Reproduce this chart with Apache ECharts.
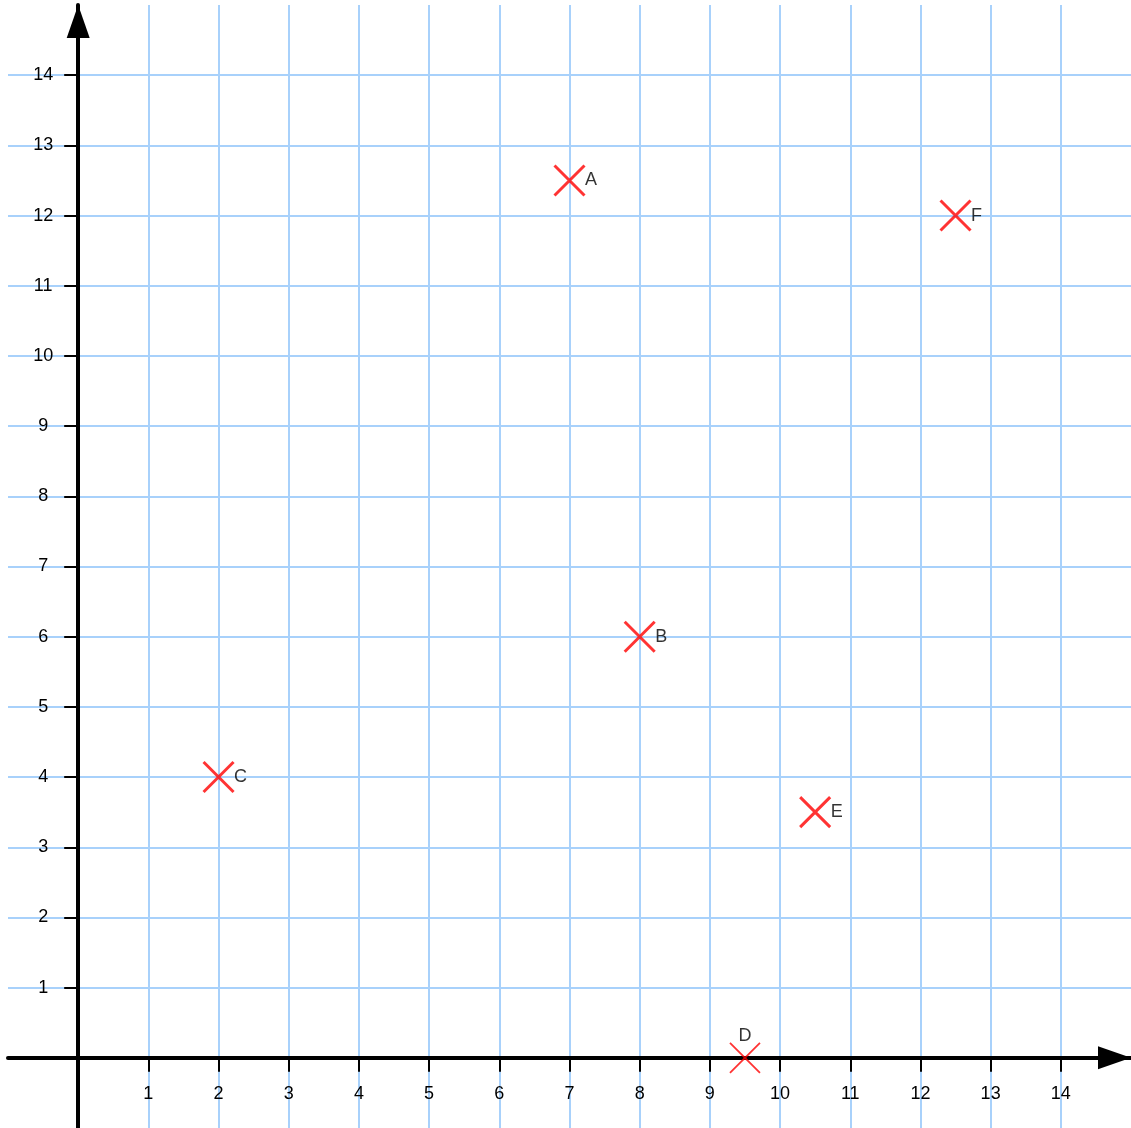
<!DOCTYPE html>
<html>
<head>
<meta charset="utf-8">
<script src="https://cdn.jsdelivr.net/npm/echarts@6/dist/echarts.min.js"></script>
<style>
html,body{margin:0;padding:0;background:#fff;}
#chart{width:1131px;height:1128px;}
</style>
</head>
<body>
<div id="chart"></div>
<script>
const pointNames = ['A', 'B', 'C', 'D', 'E', 'F'];
const pointX = [7, 8, 2, 9.5, 10.5, 12.5];
const pointY = [12.5, 6, 4, 0, 3.5, 12];
const xTicks = [1,2,3,4,5,6,7,8,9,10,11,12,13,14];
const yTicks = [1,2,3,4,5,6,7,8,9,10,11,12,13,14];
const axisMin = -1, axisMax = 15;

const crossPath = 'path://M0,0L10,10M10,0L0,10';
const font = '"Liberation Sans", Arial, sans-serif';

// layout
const W = 1131, H = 1128;
const gLeft = 8, gRight = 0, gTop = 5, gBottom = 0;
const unitX = (W - gLeft - gRight) / (axisMax - axisMin);
const unitY = (H - gTop - gBottom) / (axisMax - axisMin);

const labelStyle = {show: true, formatter: '{b}', color: '#000', fontSize: 18, fontFamily: font};

const pts = pointNames.map((n, i) => {
  const onAxis = pointY[i] === 0;
  return {
    name: n,
    value: [pointX[i], pointY[i]],
    itemStyle: onAxis ? {color: 'transparent', borderColor: '#ff0000', borderWidth: 1.8}
                      : {color: 'transparent', borderColor: '#ff0000', borderWidth: 3},
    label: Object.assign({}, labelStyle, onAxis ? {position: 'top', distance: -3} : {position: 'right', distance: -1})
  };
});

function makeAxis(ticks, offset, labelExtra) {
  return {
    type: 'value',
    min: axisMin,
    max: axisMax,
    interval: 1,
    offset: offset,
    axisLine: {
      show: true,
      onZero: false,
      lineStyle: {color: '#000', width: 4},
      symbol: ['none', 'triangle'],
      symbolSize: [23, 33],
      symbolOffset: [0, -16.5]
    },
    axisTick: {show: true, length: 14, lineStyle: {color: '#000', width: 2}, customValues: ticks},
    splitLine: {show: true, lineStyle: {color: '#a8d1fb', width: 2}},
    axisLabel: Object.assign({color: '#000', fontSize: 18, fontFamily: font, customValues: ticks}, labelExtra)
  };
}

const chart = echarts.init(document.getElementById('chart'));
chart.setOption({
  animation: false,
  grid: {left: gLeft, right: gRight, top: gTop, bottom: gBottom, containLabel: false, outerBoundsMode: 'none'},
  xAxis: makeAxis(xTicks, -unitY * (0 - axisMin), {margin: 27}),
  yAxis: makeAxis(yTicks, -unitX * (0 - axisMin), {margin: 35, align: 'center'}),
  series: [{
    type: 'scatter',
    symbol: crossPath,
    symbolSize: 30,
    z: 5,
    data: pts,
    label: labelStyle
  }]
});
</script>
</body>
</html>
